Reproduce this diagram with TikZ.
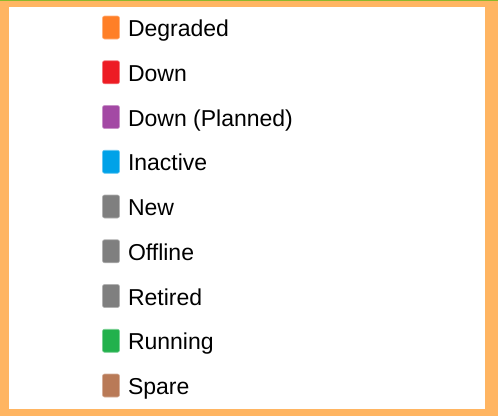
\documentclass[tikz,border=0pt]{standalone}
\usepackage{fontspec}
\setmainfont{Liberation Sans}
\usetikzlibrary{positioning, calc}

\definecolor{frameorange}{HTML}{FFB562}
\definecolor{topgreen}{HTML}{8DB82C}
\definecolor{stDegraded}{HTML}{FF7F27}
\definecolor{stDown}{HTML}{ED1C24}
\definecolor{stPlanned}{HTML}{A349A4}
\definecolor{stInactive}{HTML}{00A2E8}
\definecolor{stGrey}{HTML}{7F7F7F}
\definecolor{stRunning}{HTML}{22B14C}
\definecolor{stSpare}{HTML}{B97A57}

\tikzset{
	swatch/.style={rectangle, rounded corners=2pt, minimum width=17pt, minimum height=23pt, inner sep=0pt, fill=#1, draw=#1!60!white, line width=0.6pt},
	statustext/.style={inner sep=0pt, anchor=base west, font=\fontsize{23}{27}\selectfont}
}

\begin{document}
\begin{tikzpicture}[x=1pt, y=-1pt]

					% Define the spacing of the rows
					\def\rowGap{44.75}
					
					% Frame and white panel
					\useasboundingbox (0,0) rectangle (498,416);
					\fill[frameorange] (0,0) rectangle (498,416);
					\fill[white] (9,7) rectangle (485,409);
					\draw[topgreen, line width=1pt] (0,0.5) -- (498,0.5);
					
					% Legend entries
					\foreach \name/\col [count=\i from 0] in {Degraded/stDegraded, Down/stDown, Down (Planned)/stPlanned, Inactive/stInactive, New/stGrey, Offline/stGrey, Retired/stGrey, Running/stRunning, Spare/stSpare}{
						\node[swatch=\col] (sq\i) at (111, 27.5+\i*\rowGap) {};
						\node[statustext] (txt\i) at ([xshift=8pt, yshift=-9.2pt]sq\i.east) {\name};
					}
					
				\end{tikzpicture}
\end{document}
